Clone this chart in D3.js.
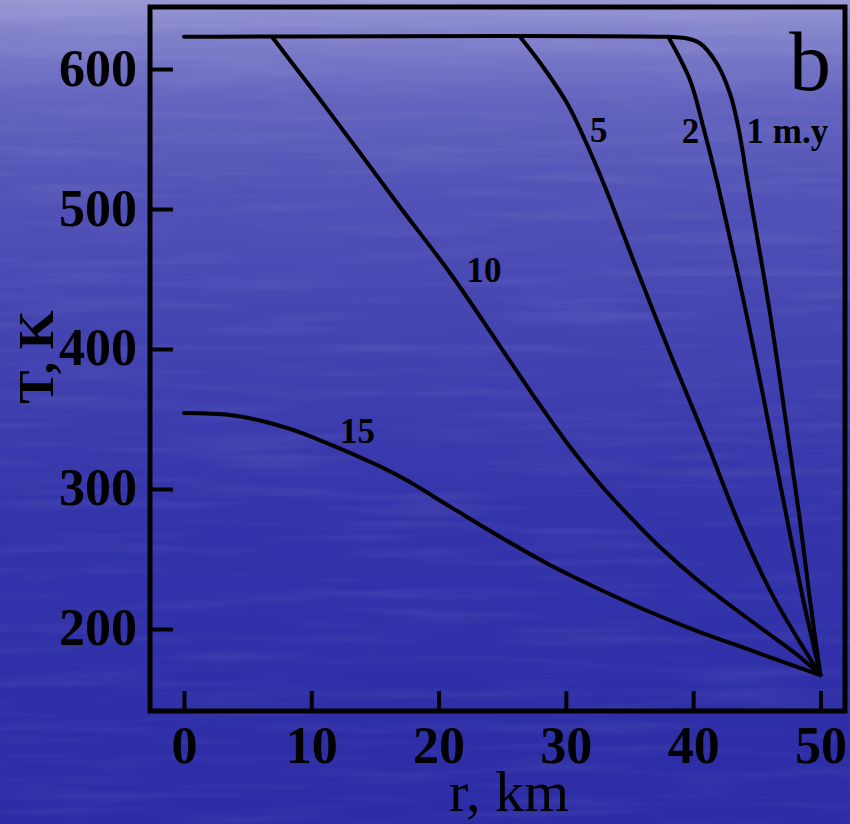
<!DOCTYPE html>
<html>
<head>
<meta charset="utf-8">
<script src="https://cdn.jsdelivr.net/npm/d3@7/dist/d3.min.js"></script>
<style>
  html, body { margin: 0; padding: 0; background: #3a3ab0; }
  svg { display: block; }
</style>
</head>
<body>
<svg id="chart" width="850" height="824"></svg>
<script>
// ---- data ----
const xTicks = [0, 10, 20, 30, 40, 50];
const yTicks = [200, 300, 400, 500, 600];
const curveLabels = ["1 m.y", "2", "5", "10", "15"];

const r1  = [0, 37.94, 39.36, 40.53, 41.85, 42.89, 43.54, 44.34, 45.25, 46.08, 46.86, 47.6, 48.35, 49.18, 50];
const T1  = [623, 623, 622.1, 618.4, 604.1, 582.6, 558.8, 515.9, 468.4, 423.1, 375.5, 327.9, 280.2, 220.7, 167];

const r2  = [38.04, 39.75, 40.79, 41.85, 43.15, 44.23, 45.56, 46.82, 47.86, 48.65, 50];
const T2  = [623, 592.1, 558.8, 520.7, 468.4, 423.1, 363.6, 304.1, 256.4, 220.7, 167];

const r5  = [26.4, 28.2, 30.1, 31.5, 33.07, 35.6, 38.4, 41.1, 43.7, 46.3, 50];
const T5  = [623, 601.6, 575.5, 549.3, 515.9, 456.4, 392.1, 332.6, 273.1, 223.1, 167];

const r10 = [6.91, 10.42, 13.83, 16.97, 20.9, 24.82, 27.42, 30.09, 32.68, 35.27, 37.39, 40.53, 44.46, 48.39, 50];
const T10 = [623, 581.4, 540.0, 501.4, 454.3, 402.1, 367.1, 332.9, 303.6, 277.9, 258.6, 233.6, 206.4, 180, 167];

const r15 = [0, 3.61, 5.97, 8.33, 10.94, 14.87, 17.23, 20.9, 24.82, 28.75, 32.68, 36.61, 39.75, 44.46, 50];
const T15 = [354.3, 352.9, 348.9, 342.9, 333.9, 318.4, 307.6, 287.4, 265.9, 245.7, 228.2, 212.1, 200.5, 185, 167];

const seriesR = [r1, r2, r5, r10, r15];
const seriesT = [T1, T2, T5, T10, T15];

// ---- layout ----
const svg = d3.select("#chart");
const W = 850, H = 824;
const pLeft = 150, pRight = 845, pTop = 7, pBottom = 711;
const serif = "'Liberation Serif', 'Times New Roman', serif";

const x = d3.scaleLinear().domain([-2.67, 51.93]).range([pLeft, pRight]);
const y = d3.scaleLinear().domain([141.4, 644.3]).range([pBottom, pTop]);

// background gradient
const defs = svg.append("defs");
const grad = defs.append("linearGradient").attr("id", "bg")
  .attr("x1", 0).attr("y1", 0).attr("x2", 0).attr("y2", 1);
[[0, "#9898d4"], [0.04, "#8282cb"], [0.12, "#6464bf"], [0.25, "#5050b6"],
 [0.45, "#4040b0"], [0.65, "#3333aa"], [1, "#2c2ca6"]].forEach(([o, c]) =>
  grad.append("stop").attr("offset", o).attr("stop-color", c));
svg.append("rect").attr("width", W).attr("height", H).attr("fill", "url(#bg)");

// subtle horizontal streak texture
const filt = defs.append("filter").attr("id", "tex").attr("x", 0).attr("y", 0).attr("width", 1).attr("height", 1);
filt.append("feTurbulence").attr("type", "fractalNoise").attr("baseFrequency", "0.006 0.09")
  .attr("numOctaves", 2).attr("seed", 3).attr("result", "n");
filt.append("feColorMatrix").attr("type", "matrix")
  .attr("values", "0 0 0 0 1  0 0 0 0 1  0 0 0 0 1  0 0 0 1.2 -0.55");
svg.append("rect").attr("width", W).attr("height", H).attr("filter", "url(#tex)").attr("opacity", 0.12);

// axes (ticks inward)
const xAxis = svg.append("g").attr("transform", `translate(0,${pBottom})`)
  .call(d3.axisBottom(x).tickValues(xTicks).tickSize(-20).tickSizeOuter(0).tickFormat(d3.format("d")));
xAxis.select(".domain").remove();
xAxis.selectAll(".tick line").attr("stroke", "#000").attr("stroke-width", 4);
xAxis.selectAll(".tick text").attr("y", 52).attr("dy", 0)
  .attr("fill", "#000").attr("font-family", serif).attr("font-weight", "bold").attr("font-size", 52);

const yAxis = svg.append("g").attr("transform", `translate(${pLeft},0)`)
  .call(d3.axisLeft(y).tickValues(yTicks).tickSize(-23).tickSizeOuter(0).tickFormat(d3.format("d")));
yAxis.select(".domain").remove();
yAxis.selectAll(".tick line").attr("stroke", "#000").attr("stroke-width", 4);
yAxis.selectAll(".tick text").attr("x", -13).attr("dy", 16)
  .attr("fill", "#000").attr("font-family", serif).attr("font-weight", "bold").attr("font-size", 52)
  .attr("text-anchor", "end");

// frame
svg.append("rect").attr("x", pLeft).attr("y", pTop)
  .attr("width", pRight - pLeft).attr("height", pBottom - pTop)
  .attr("fill", "none").attr("stroke", "#000").attr("stroke-width", 5);

// curves
const line = d3.line().x(d => x(d[0])).y(d => y(d[1])).curve(d3.curveCatmullRom.alpha(0.5));
seriesR.forEach((rs, i) => {
  const pts = rs.map((r, j) => [r, seriesT[i][j]]);
  svg.append("path").attr("d", line(pts))
    .attr("fill", "none").attr("stroke", "#000").attr("stroke-width", 4)
    .attr("stroke-linejoin", "round").attr("stroke-linecap", "round");
});

// curve labels (anchored in data units)
const labelAnchors = [[44.2, 547], [39.1, 547], [31.9, 548], [22.2, 448], [12.25, 333]];
curveLabels.forEach((t, i) => {
  svg.append("text").attr("x", x(labelAnchors[i][0])).attr("y", y(labelAnchors[i][1]))
    .attr("font-family", serif).attr("font-weight", "bold").attr("font-size", 35)
    .attr("fill", "#000").text(t);
});

// panel letter
svg.append("text").attr("x", 789).attr("y", 90)
  .attr("font-family", serif).attr("font-size", 84).attr("fill", "#000").text("b");

// axis titles
svg.append("text").attr("x", 509).attr("y", 811).attr("text-anchor", "middle")
  .attr("font-family", serif).attr("font-size", 58).attr("fill", "#000").text("r, km");
svg.append("text").attr("transform", "translate(53,357) rotate(-90)").attr("text-anchor", "middle")
  .attr("font-family", serif).attr("font-weight", "bold").attr("font-size", 50).attr("fill", "#000").text("T, K");
</script>
</body>
</html>
